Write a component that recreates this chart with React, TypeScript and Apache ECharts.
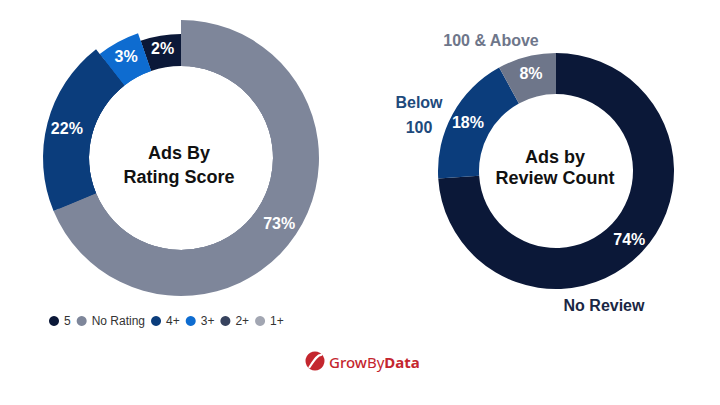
import React, { useEffect, useRef } from 'react';
import * as echarts from 'echarts';

const FONT = '"Liberation Sans", Arial, Helvetica, sans-serif';

// Left donut: Ads by Rating Score
const ratingNames = ['5', 'No Rating', '4+', '3+', '2+', '1+'];
const ratingValues: (number | null)[] = [2, 73, 22, 3, null, null];
const ratingColors = ['#0b1838', '#7e869a', '#0b3d7c', '#0e6cd0', '#37435e', '#a2a6b2'];
const ratingTitle = 'Ads By\nRating Score';

// Right donut: Ads by Review Count
const reviewNames = ['No Review', 'Below 100', '100 & Above'];
const reviewValues = [74, 18, 8];
const reviewColors = ['#0b1838', '#0b3d7c', '#6e768a'];
const reviewLabelText = ['No Review', 'Below\n100', '100 & Above'];
const reviewLabelColors = ['#1a2744', '#1e4a7c', '#6e768a'];
const reviewTitle = 'Ads by\nReview Count';

const brandParts = ['Grow', 'By', 'Data'];

// styling: per-slice outer radius of the left donut (px)
const ratingOuter = [124, 138, 138, 132, 138, 138];

export default function App() {
  const ref = useRef<HTMLDivElement>(null);

  useEffect(() => {
    document.body.style.margin = '0';
    if (!ref.current) return;
    const chart = echarts.init(ref.current, null, { renderer: 'svg' });

    const pctFmt = (p: any) => (p.value == null || isNaN(Number(p.value)) ? '' : p.value + '%');

    const MIN_ANGLE = 19;
    const layers = [124, 132, 138];
    const leftSeries = layers.map((outer, li) => ({
      type: 'pie',
      name: 'rating-' + outer,
      center: [181, 158],
      radius: [92, outer],
      startAngle: 90 + MIN_ANGLE,
      minAngle: MIN_ANGLE,
      clockwise: true,
      silent: true,
      avoidLabelOverlap: false,
      emphasis: { disabled: true },
      labelLine: { show: false },
      label: {
        show: true,
        position: 'inside',
        color: '#ffffff',
        fontSize: 16,
        fontWeight: 'bold',
        fontFamily: FONT,
        formatter: pctFmt,
      },
      data: ratingNames.map((n, i) => ({
        name: n,
        value: ratingValues[i] == null ? '-' : ratingValues[i],
        itemStyle: {
          color: li === 0 || ratingOuter[i] >= outer ? ratingColors[i] : 'rgba(0,0,0,0)',
        },
        label: { show: ratingValues[i] != null && ratingOuter[i] === outer },
      })),
    }));

    const rightSeries = {
      type: 'pie',
      name: 'review',
      center: [556, 171],
      radius: [77, 118],
      startAngle: 90,
      clockwise: true,
      silent: true,
      avoidLabelOverlap: false,
      emphasis: { disabled: true },
      labelLine: { show: false },
      label: {
        show: true,
        position: 'inside',
        color: '#ffffff',
        fontSize: 16,
        fontWeight: 'bold',
        fontFamily: FONT,
        formatter: pctFmt,
      },
      data: reviewNames.map((n, i) => ({
        name: n,
        value: reviewValues[i],
        itemStyle: { color: reviewColors[i] },
      })),
    };

    const outerLabelPos = [
      { x: 604, y: 305 },
      { x: 419, y: 115 },
      { x: 491, y: 40 },
    ];

    chart.setOption({
      animation: false,
      backgroundColor: '#ffffff',
      legend: {
        data: ratingNames,
        left: 44,
        top: 310,
        icon: 'circle',
        itemWidth: 10,
        itemHeight: 10,
        itemGap: 6,
        selectedMode: false,
        textStyle: { fontSize: 12, color: '#333333', fontFamily: FONT },
      },
      series: [...leftSeries, rightSeries],
      graphic: [
        {
          type: 'text',
          x: 179,
          y: 165,
          style: {
            text: ratingTitle,
            fill: '#111111',
            font: 'bold 18px ' + FONT,
            textAlign: 'center',
            textVerticalAlign: 'middle',
            lineHeight: 24,
          },
        },
        {
          type: 'text',
          x: 555,
          y: 167,
          style: {
            text: reviewTitle,
            fill: '#111111',
            font: 'bold 18px ' + FONT,
            textAlign: 'center',
            textVerticalAlign: 'middle',
            lineHeight: 21,
          },
        },
        ...reviewLabelText.map((t, i) => ({
          type: 'text',
          x: outerLabelPos[i].x,
          y: outerLabelPos[i].y,
          style: {
            text: t,
            fill: reviewLabelColors[i],
            font: 'bold 16px ' + FONT,
            textAlign: 'center',
            textVerticalAlign: 'middle',
            lineHeight: 25,
          },
        })),
        {
          type: 'group',
          children: [
            { type: 'circle', shape: { cx: 315, cy: 361, r: 9.5 }, style: { fill: '#c4262e' } },
            {
              type: 'bezierCurve',
              shape: { x1: 309, y1: 368, cpx1: 313, cpy1: 362, x2: 322, y2: 355, cpx2: 317, cpy2: 354 },
              style: { stroke: '#ffffff', lineWidth: 2.2, fill: 'none' },
            },
            {
              type: 'text',
              x: 329,
              y: 362,
              style: {
                text: '{a|' + brandParts[0] + '}{b|' + brandParts[1] + '}{c|' + brandParts[2] + '}',
                textVerticalAlign: 'middle',
                rich: {
                  a: { fontSize: 15, fontWeight: 500, fill: '#c4262e', fontFamily: '"Noto Sans", sans-serif' },
                  b: { fontSize: 15, fontWeight: 'normal', fill: '#c4262e', fontFamily: '"Noto Sans", sans-serif' },
                  c: { fontSize: 15, fontWeight: 'bold', fill: '#c4262e', fontFamily: '"Noto Sans", sans-serif' },
                },
              },
            },
          ],
        },
      ],
    });

    return () => chart.dispose();
  }, []);

  return <div ref={ref} style={{ width: 720, height: 405 }} />;
}
